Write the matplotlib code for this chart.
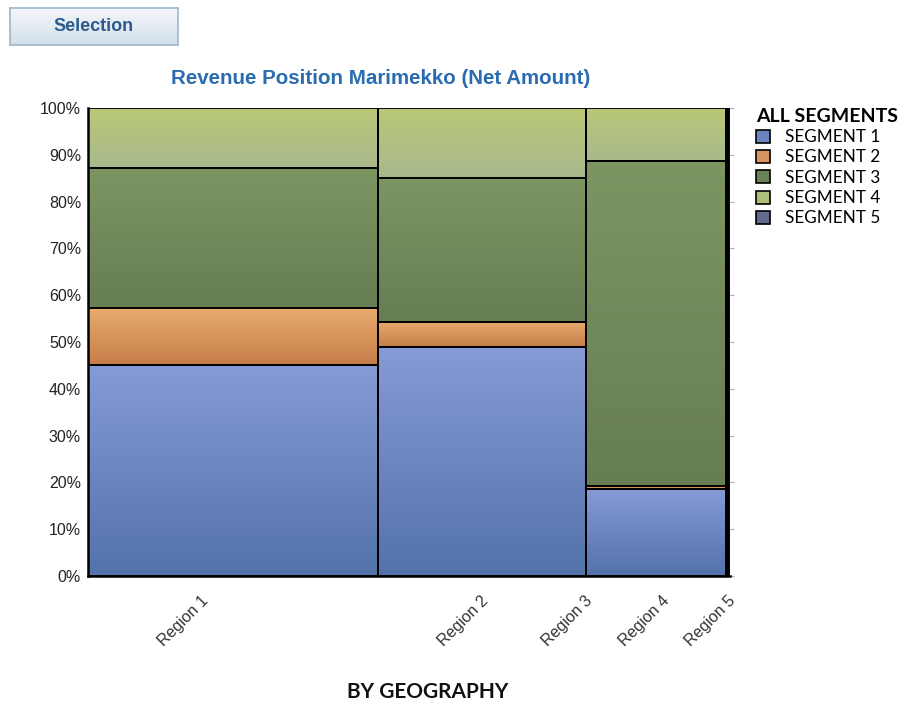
import numpy as np
import matplotlib.pyplot as plt
from matplotlib.colors import LinearSegmentedColormap
from matplotlib.patches import Patch, Rectangle
import matplotlib.transforms as mtransforms

# data
regions = ["Region 1", "Region 2", "Region 3", "Region 4", "Region 5"]
region_share = [45.2, 32.4, 21.8, 0.3, 0.3]   # column widths, % of total net amount
segments = ["SEGMENT 1", "SEGMENT 2", "SEGMENT 3", "SEGMENT 4", "SEGMENT 5"]
seg1 = [45.1, 48.9, 18.6, 0.0, 0.0]
seg2 = [12.2, 5.4, 0.6, 0.0, 0.0]
seg3 = [29.9, 30.7, 69.5, 0.0, 0.0]
seg4 = [12.8, 15.0, 11.3, 0.0, 0.0]
seg5 = [0.0, 0.0, 0.0, 100.0, 100.0]

# colours: legend swatch, gradient top, gradient bottom
swatch = ["#6a84c0", "#d99560", "#6b8358", "#aebf7c", "#646a8e"]
grad_top = ["#869bd6", "#e8ad70", "#7c9662", "#b9c877", "#6f7598"]
grad_bot = ["#5372aa", "#c67d47", "#677d53", "#a9b98c", "#55597c"]

# label anchor positions along x (layout only)
label_x = [17.6, 61.2, 77.4, 89.4, 99.6]

plt.rcParams['font.family'] = ['Liberation Sans', 'DejaVu Sans']
side_font = ['Lato', 'DejaVu Sans']

fig = plt.figure(figsize=(9.01, 7.03), dpi=100)
ax = fig.add_axes([88 / 901, 1 - 576 / 703, 642 / 901, 468 / 703])

values = [seg1, seg2, seg3, seg4, seg5]
lefts = np.concatenate([[0], np.cumsum(region_share)[:-1]])
grad = np.linspace(0, 1, 256).reshape(-1, 1)

for s, vals in enumerate(values):
    bottoms = np.sum(values[:s], axis=0) if s > 0 else np.zeros(len(regions))
    cmap = LinearSegmentedColormap.from_list("g%d" % s, [grad_top[s], grad_bot[s]])
    bars = ax.bar(lefts, vals, width=region_share, bottom=bottoms, align='edge',
                  color=swatch[s], edgecolor='black', linewidth=1.3, zorder=2)
    for b in bars:
        if b.get_height() <= 0:
            continue
        x0, y0 = b.get_x(), b.get_y()
        ax.imshow(grad, cmap=cmap, aspect='auto', zorder=2.5,
                  extent=[x0, x0 + b.get_width(), y0, y0 + b.get_height()])
        ax.add_patch(Rectangle((x0, y0), b.get_width(), b.get_height(),
                               fill=False, edgecolor='black', linewidth=1.3, zorder=3))

ax.set_xlim(0, 100)
ax.set_ylim(0, 100)
ax.set_yticks(np.arange(0, 101, 10))
ax.set_yticklabels(["%d%%" % v for v in range(0, 101, 10)], fontsize=11.5, color='#222222')
ax.tick_params(axis='y', left=False, right=True, length=3, color='#aaaaaa', pad=2)
ax.set_xticks([])
for side in ['top', 'right']:
    ax.spines[side].set_visible(False)
ax.spines['left'].set_linewidth(1.8)
ax.spines['bottom'].set_linewidth(1.8)

# rotated region labels
trans = mtransforms.blended_transform_factory(ax.transData, ax.transAxes)
for name, xp in zip(regions, label_x):
    ax.text(xp, -0.036, name, transform=trans, rotation=45, ha='right', va='top',
            rotation_mode='anchor', fontsize=11.5, color='#333333', clip_on=False)

# title and axis title
fig.text(381 / 901, 1 - 78 / 703, "Revenue Position Marimekko (Net Amount)",
         ha='center', va='center', fontsize=14.8, fontweight='bold', color='#2b6cb0')
fig.text(428 / 901, 1 - 692 / 703, "BY GEOGRAPHY", ha='center', va='center',
         fontsize=15, fontweight='bold', family=side_font, color='#111111')

# legend
handles = [Patch(facecolor=c, edgecolor='black', linewidth=1.2) for c in swatch]
leg = fig.legend(handles, segments, loc='upper left', bbox_to_anchor=(744 / 901, 1 - 96 / 703),
                 frameon=False, title="ALL SEGMENTS", handlelength=0.8, handleheight=0.8,
                 handletextpad=0.9, labelspacing=0.25, borderpad=0.2,
                 prop={'family': side_font, 'size': 12.3})
leg.get_title().set_fontweight('bold')
leg.get_title().set_fontsize(14)
leg.get_title().set_family(side_font)
leg._legend_box.align = "left"

# "Selection" button
bax = fig.add_axes([10 / 901, 1 - 45 / 703, 168 / 901, 37 / 703])
btn = LinearSegmentedColormap.from_list("btn", ["#f4f7fa", "#d3dfea"])
bax.imshow(grad, cmap=btn, aspect='auto', extent=[0, 1, 0, 1])
bax.set_xlim(0, 1)
bax.set_ylim(0, 1)
bax.set_xticks([])
bax.set_yticks([])
for sp in bax.spines.values():
    sp.set_color('#9fb6cb')
    sp.set_linewidth(1.2)
bax.text(0.5, 0.5, "Selection", ha='center', va='center', fontsize=13,
         fontweight='bold', color='#2a5b8c')

fig.savefig("out.png", dpi=100)
